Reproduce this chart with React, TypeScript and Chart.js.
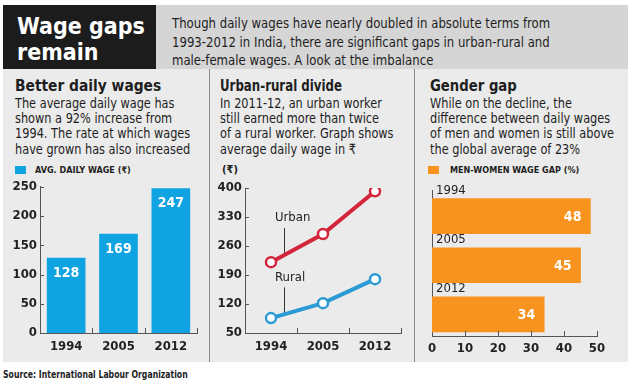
import React, { useEffect, useRef } from 'react';
import { Chart, registerables } from 'chart.js';
Chart.register(...registerables);

// ---------- DATA ----------
const wageYears = ['1994', '2005', '2012'];
const avgDailyWage = [128, 169, 247];

const divideYears = ['1994', '2005', '2012'];
const urbanWage = [221, 289, 392];
const ruralWage = [86, 122, 180];
const divideSeries = ['Urban', 'Rural'];

const gapYears = ['1994', '2005', '2012'];
const wageGap = [48, 45, 34];

const FONT = "'DejaVu Sans Condensed', 'Liberation Sans Narrow', 'Roboto Condensed', Roboto, sans-serif";
const AXIS = '#555555';
const BLUE_BAR = '#0fa3e2';
const ORANGE = '#f7931e';
const RED = '#d4263b';
const BLUE_LINE = '#2c9ad5';

function T(props: { x: number; y: number; s: number; w?: number; c?: string; sx?: number; children: any }) {
  const lh = Math.round(props.s * 1.3);
  return (
    <div
      style={{
        position: 'absolute',
        left: props.x,
        top: props.y - lh / 2,
        fontSize: props.s,
        lineHeight: lh + 'px',
        fontWeight: props.w ?? 400,
        color: props.c ?? '#1e1e1e',
        whiteSpace: 'nowrap',
        fontFamily: FONT,
        transform: `scaleX(${props.sx ?? 1})`,
        transformOrigin: 'left center',
      }}
    >
      {props.children}
    </div>
  );
}

const innerTicks = (mode: 'boundaries' | 'ticks', yTicks: boolean) => ({
  id: 'innerTicks',
  afterDraw(chart: any) {
    const ctx = chart.ctx;
    const a = chart.chartArea;
    const xs = chart.scales.x;
    ctx.save();
    ctx.strokeStyle = AXIS;
    ctx.lineWidth = 1;
    ctx.beginPath();
    const n = xs.ticks.length;
    for (let i = 0; i < n; i++) {
      let px: number;
      if (mode === 'boundaries') {
        px = i < n - 1 ? (xs.getPixelForTick(i) + xs.getPixelForTick(i + 1)) / 2 : a.right;
      } else {
        if (i === 0) continue;
        px = xs.getPixelForTick(i);
      }
      px = Math.round(px) + 0.5;
      ctx.moveTo(px, a.bottom);
      ctx.lineTo(px, a.bottom - 5);
    }
    if (yTicks) {
      const ys = chart.scales.y;
      for (let i = 0; i < ys.ticks.length; i++) {
        const py = Math.round(ys.getPixelForTick(i)) + 0.5;
        ctx.moveTo(a.left, py);
        ctx.lineTo(a.left + 4, py);
      }
    }
    ctx.stroke();
    ctx.restore();
  },
});

const tickFont = { family: FONT, size: 13, weight: 'bold' as const };

function WageChart() {
  const ref = useRef<HTMLCanvasElement>(null);
  useEffect(() => {
    const labelPlugin = {
      id: 'barLabels',
      afterDatasetsDraw(chart: any) {
        const ctx = chart.ctx;
        const meta = chart.getDatasetMeta(0);
        ctx.save();
        ctx.fillStyle = '#ffffff';
        ctx.font = `bold 14px ${FONT}`;
        ctx.textAlign = 'center';
        ctx.textBaseline = 'middle';
        meta.data.forEach((bar: any, i: number) => {
          ctx.fillText(String(avgDailyWage[i]), bar.x, bar.y + 15);
        });
        ctx.restore();
      },
    };
    const chart = new Chart(ref.current!, {
      type: 'bar',
      data: {
        labels: wageYears,
        datasets: [{ data: avgDailyWage, backgroundColor: BLUE_BAR, barThickness: 38 }],
      },
      options: {
        responsive: false,
        animation: false,
        devicePixelRatio: 1,
        layout: { padding: { left: 0, right: 11, top: 9, bottom: 0 } },
        plugins: { legend: { display: false }, tooltip: { enabled: false } },
        scales: {
          x: {
            grid: { display: false, drawTicks: false },
            border: { display: true, color: AXIS, width: 1 },
            ticks: { color: '#222', font: tickFont, padding: 6 },
            afterFit: (s: any) => { s.height = 29; },
          },
          y: {
            min: 0,
            max: 250,
            grid: { display: false, drawTicks: false },
            border: { display: true, color: AXIS, width: 1 },
            ticks: { stepSize: 50, color: '#222', font: tickFont, padding: 3 },
            afterFit: (s: any) => { s.width = 32; },
          },
        },
      },
      plugins: [labelPlugin, innerTicks('boundaries', true)],
    });
    return () => chart.destroy();
  }, []);
  return <canvas ref={ref} width={200} height={186} style={{ position: 'absolute', left: 8, top: 176 }} />;
}

function DivideChart() {
  const ref = useRef<HTMLCanvasElement>(null);
  useEffect(() => {
    const pointerPlugin = {
      id: 'pointers',
      beforeDatasetsDraw(chart: any) {
        const ctx = chart.ctx;
        ctx.save();
        ctx.strokeStyle = '#333';
        ctx.lineWidth = 1;
        ctx.fillStyle = '#222';
        ctx.font = `500 13px ${FONT}`;
        ctx.textAlign = 'left';
        ctx.textBaseline = 'middle';
        chart.data.datasets.forEach((ds: any, d: number) => {
          const pts = chart.getDatasetMeta(d).data;
          const px = pts[0].x + (pts[1].x - pts[0].x) * 0.25;
          const py = pts[0].y + (pts[1].y - pts[0].y) * 0.25;
          const x = Math.round(px) + 0.5;
          ctx.beginPath();
          ctx.moveTo(x, py);
          ctx.lineTo(x, py - 27);
          ctx.stroke();
          ctx.fillText(divideSeries[d], px - 9, py - 37);
        });
        ctx.restore();
      },
    };
    const chart = new Chart(ref.current!, {
      type: 'line',
      data: {
        labels: divideYears,
        datasets: [
          {
            label: divideSeries[0],
            data: urbanWage,
            borderColor: RED,
            borderWidth: 4,
            pointRadius: 5,
            pointBorderWidth: 2.5,
            pointBackgroundColor: '#ffffff',
            pointBorderColor: RED,
          },
          {
            label: divideSeries[1],
            data: ruralWage,
            borderColor: BLUE_LINE,
            borderWidth: 4,
            pointRadius: 5,
            pointBorderWidth: 2.5,
            pointBackgroundColor: '#ffffff',
            pointBorderColor: BLUE_LINE,
          },
        ],
      },
      options: {
        responsive: false,
        animation: false,
        devicePixelRatio: 1,
        layout: { padding: { left: 0, right: 11, top: 12, bottom: 0 } },
        plugins: { legend: { display: false }, tooltip: { enabled: false } },
        scales: {
          x: {
            offset: true,
            grid: { display: false, drawTicks: false },
            border: { display: true, color: AXIS, width: 1 },
            ticks: { color: '#222', font: tickFont, padding: 6 },
            afterFit: (s: any) => { s.height = 29; },
          },
          y: {
            min: 50,
            max: 400,
            grid: { display: false, drawTicks: false },
            border: { display: true, color: AXIS, width: 1 },
            ticks: { stepSize: 70, color: '#222', font: tickFont, padding: 3 },
            afterFit: (s: any) => { s.width = 33; },
          },
        },
      },
      plugins: [pointerPlugin, innerTicks('boundaries', true)],
    });
    return () => chart.destroy();
  }, []);
  return <canvas ref={ref} width={200} height={186} style={{ position: 'absolute', left: 212, top: 176 }} />;
}

function GapChart() {
  const ref = useRef<HTMLCanvasElement>(null);
  useEffect(() => {
    const labelPlugin = {
      id: 'gapLabels',
      afterDatasetsDraw(chart: any) {
        const ctx = chart.ctx;
        const meta = chart.getDatasetMeta(0);
        const a = chart.chartArea;
        ctx.save();
        ctx.textBaseline = 'middle';
        meta.data.forEach((bar: any, i: number) => {
          ctx.fillStyle = '#ffffff';
          ctx.font = `bold 14px ${FONT}`;
          ctx.textAlign = 'right';
          ctx.fillText(String(wageGap[i]), bar.x - 9, bar.y + 1);
          ctx.fillStyle = '#1e1e1e';
          ctx.font = `500 13px ${FONT}`;
          ctx.textAlign = 'left';
          ctx.fillText(gapYears[i], a.left + 4, bar.y - bar.height / 2 - 8);
        });
        ctx.restore();
      },
    };
    const chart = new Chart(ref.current!, {
      type: 'bar',
      data: {
        datasets: [
          {
            data: gapYears.map((_, i) => ({ x: wageGap[i], y: i })),
            backgroundColor: ORANGE,
            barThickness: 35,
          },
        ],
      },
      options: {
        indexAxis: 'y',
        responsive: false,
        animation: false,
        devicePixelRatio: 1,
        layout: { padding: { left: 0, right: 26, top: 14, bottom: 0 } },
        plugins: { legend: { display: false }, tooltip: { enabled: false } },
        scales: {
          x: {
            type: 'linear',
            min: 0,
            max: 50,
            grid: { display: false, drawTicks: false },
            border: { display: true, color: AXIS, width: 1 },
            ticks: { stepSize: 10, color: '#222', font: tickFont, padding: 5 },
            afterFit: (s: any) => { s.height = 26; },
          },
          y: {
            type: 'linear',
            reverse: true,
            offset: false,
            min: -0.53,
            max: 2.44,
            grid: { display: false, drawTicks: false, offset: false },
            border: { display: true, color: AXIS, width: 1 },
            ticks: { display: false },
            afterFit: (s: any) => { s.width = 14; },
          },
        },
      },
      plugins: [labelPlugin, innerTicks('ticks', false)],
    });
    return () => chart.destroy();
  }, []);
  return <canvas ref={ref} width={205} height={186} style={{ position: 'absolute', left: 418, top: 176 }} />;
}

export default function App() {
  return (
    <div
      style={{
        position: 'fixed',
        left: 0,
        top: 0,
        width: 628,
        height: 386,
        background: '#ffffff',
        overflow: 'hidden',
        fontFamily: FONT,
      }}
    >
      {/* header */}
      <div style={{ position: 'absolute', left: 3, top: 5, width: 153, height: 64, background: '#1c1c1c' }} />
      <div style={{ position: 'absolute', left: 156, top: 5, width: 472, height: 64, background: '#d5d5d5' }} />
      <T x={17} y={26} s={23} w={700} c="#ffffff">Wage gaps</T>
      <T x={17} y={52} s={23} w={700} c="#ffffff">remain</T>
      <T x={172} y={23} s={14} sx={0.93}>Though daily wages have nearly doubled in absolute terms from</T>
      <T x={172} y={42} s={14} sx={0.93}>1993-2012 in India, there are significant gaps in urban-rural and</T>
      <T x={172} y={60} s={14} sx={0.93}>male-female wages. A look at the imbalance</T>

      {/* panels */}
      <div style={{ position: 'absolute', left: 3, top: 69, width: 625, height: 293, background: '#ebebeb' }} />
      <div style={{ position: 'absolute', left: 209, top: 69, width: 1, height: 293, background: '#8a8a8a' }} />
      <div style={{ position: 'absolute', left: 414, top: 69, width: 1, height: 293, background: '#8a8a8a' }} />

      {/* panel 1 */}
      <T x={15} y={85} s={16} w={700} sx={0.96}>Better daily wages</T>
      <T x={15} y={103} s={14} sx={0.9}>The average daily wage has</T>
      <T x={15} y={118} s={14} sx={0.9}>shown a 92% increase from</T>
      <T x={15} y={133} s={14} sx={0.9}>1994. The rate at which wages</T>
      <T x={15} y={149} s={14} sx={0.9}>have grown has also increased</T>
      <div style={{ position: 'absolute', left: 15, top: 166, width: 11, height: 8, background: BLUE_BAR }} />
      <T x={35} y={170} s={9} w={700}>AVG. DAILY WAGE (₹)</T>

      {/* panel 2 */}
      <T x={220} y={85} s={16} w={700} sx={0.82}>Urban-rural divide</T>
      <T x={220} y={103} s={14} sx={0.9}>In 2011-12, an urban worker</T>
      <T x={220} y={118} s={14} sx={0.9}>still earned more than twice</T>
      <T x={220} y={133} s={14} sx={0.9}>of a rural worker. Graph shows</T>
      <T x={220} y={149} s={14} sx={0.9}>average daily wage in ₹</T>
      <T x={222} y={170} s={11} w={700}>(₹)</T>

      {/* panel 3 */}
      <T x={430} y={85} s={16} w={700} sx={0.92}>Gender gap</T>
      <T x={430} y={103} s={14} sx={0.9}>While on the decline, the</T>
      <T x={430} y={118} s={14} sx={0.9}>difference between daily wages</T>
      <T x={430} y={133} s={14} sx={0.9}>of men and women is still above</T>
      <T x={430} y={149} s={14} sx={0.9}>the global average of 23%</T>
      <div style={{ position: 'absolute', left: 428, top: 166, width: 11, height: 8, background: ORANGE }} />
      <T x={450} y={170} s={9} w={700}>MEN-WOMEN WAGE GAP (%)</T>

      <WageChart />
      <DivideChart />
      <GapChart />

      <T x={3} y={374} s={10} w={700} sx={0.86}>Source: International Labour Organization</T>
    </div>
  );
}
